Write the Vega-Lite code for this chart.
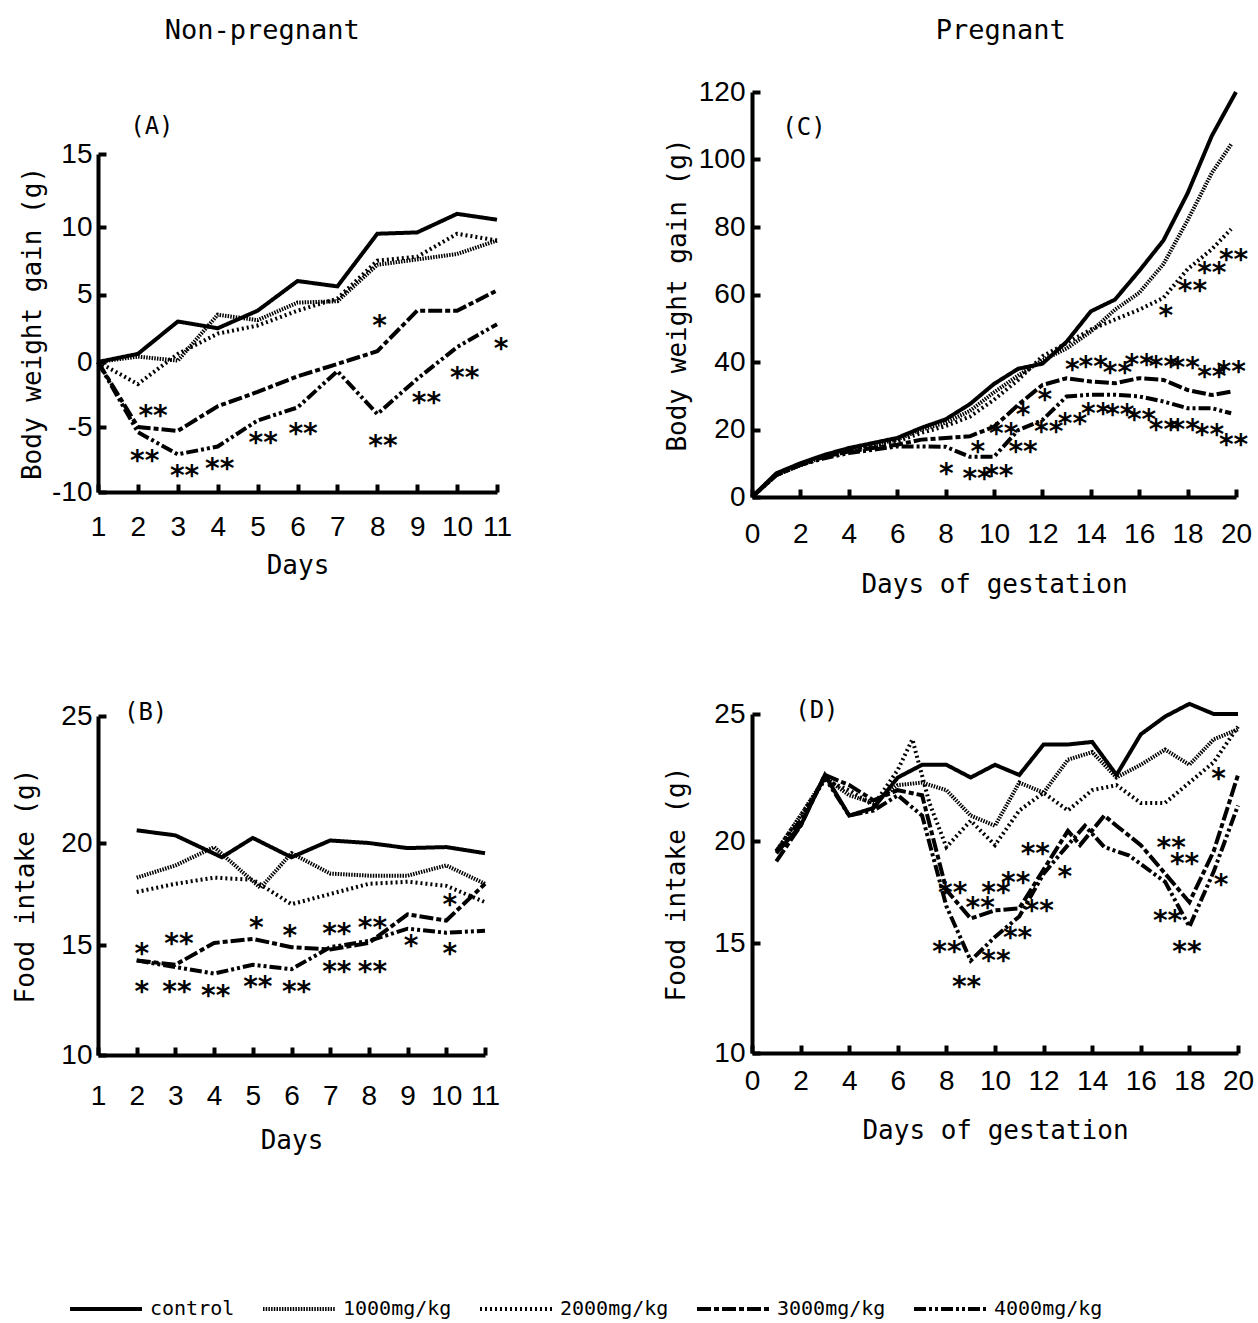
{
"$schema":"https://vega.github.io/schema/vega-lite/v6.json",
"background":"white",
"padding":{"left":12,"top":17,"right":5,"bottom":5},
"datasets":{
"A_lines":[
{"group":"control","day":1,"v":0},{"group":"control","day":2,"v":0.6},{"group":"control","day":3,"v":3.0},{"group":"control","day":4,"v":2.5},{"group":"control","day":5,"v":3.8},{"group":"control","day":6,"v":6.0},{"group":"control","day":7,"v":5.6},{"group":"control","day":8,"v":9.5},{"group":"control","day":9,"v":9.6},{"group":"control","day":10,"v":10.9},{"group":"control","day":11,"v":10.5},
{"group":"1000mg/kg","day":1,"v":0},{"group":"1000mg/kg","day":2,"v":0.4},{"group":"1000mg/kg","day":3,"v":0.1},{"group":"1000mg/kg","day":4,"v":3.5},{"group":"1000mg/kg","day":5,"v":3.1},{"group":"1000mg/kg","day":6,"v":4.4},{"group":"1000mg/kg","day":7,"v":4.5},{"group":"1000mg/kg","day":8,"v":7.2},{"group":"1000mg/kg","day":9,"v":7.6},{"group":"1000mg/kg","day":10,"v":8.0},{"group":"1000mg/kg","day":11,"v":9.0},
{"group":"2000mg/kg","day":1,"v":0},{"group":"2000mg/kg","day":2,"v":-1.7},{"group":"2000mg/kg","day":3,"v":0.6},{"group":"2000mg/kg","day":4,"v":2.1},{"group":"2000mg/kg","day":5,"v":2.7},{"group":"2000mg/kg","day":6,"v":3.8},{"group":"2000mg/kg","day":7,"v":4.7},{"group":"2000mg/kg","day":8,"v":7.5},{"group":"2000mg/kg","day":9,"v":7.8},{"group":"2000mg/kg","day":10,"v":9.5},{"group":"2000mg/kg","day":11,"v":9.0},
{"group":"3000mg/kg","day":1,"v":0},{"group":"3000mg/kg","day":2,"v":-5.0},{"group":"3000mg/kg","day":3,"v":-5.3},{"group":"3000mg/kg","day":4,"v":-3.4},{"group":"3000mg/kg","day":5,"v":-2.3},{"group":"3000mg/kg","day":6,"v":-1.1},{"group":"3000mg/kg","day":7,"v":-0.15},{"group":"3000mg/kg","day":8,"v":0.8},{"group":"3000mg/kg","day":9,"v":3.8},{"group":"3000mg/kg","day":10,"v":3.8},{"group":"3000mg/kg","day":11,"v":5.3},
{"group":"4000mg/kg","day":1,"v":0},{"group":"4000mg/kg","day":2,"v":-5.4},{"group":"4000mg/kg","day":3,"v":-7.1},{"group":"4000mg/kg","day":4,"v":-6.5},{"group":"4000mg/kg","day":5,"v":-4.5},{"group":"4000mg/kg","day":6,"v":-3.5},{"group":"4000mg/kg","day":7,"v":-0.7},{"group":"4000mg/kg","day":8,"v":-4.0},{"group":"4000mg/kg","day":9,"v":-1.3},{"group":"4000mg/kg","day":10,"v":1.1},{"group":"4000mg/kg","day":11,"v":2.8}
],
"A_stars":[
{"day":2.38,"v":-3.6,"t":"**"},{"day":2.17,"v":-7.1,"t":"**"},{"day":3.17,"v":-8.2,"t":"**"},{"day":4.05,"v":-7.7,"t":"**"},{"day":5.14,"v":-5.7,"t":"**"},{"day":6.14,"v":-5.0,"t":"**"},{"day":8.06,"v":3.2,"t":"*"},{"day":8.14,"v":-5.9,"t":"**"},{"day":9.23,"v":-2.6,"t":"**"},{"day":10.19,"v":-0.7,"t":"**"},{"day":11.1,"v":1.5,"t":"*"}
],
"A_label":[{"day":2.35,"v":16.85,"t":"(A)"}],
"B_lines":[
{"group":"control","day":2,"v":20.5},{"group":"control","day":3,"v":20.3},{"group":"control","day":4.2,"v":19.3},{"group":"control","day":5,"v":20.2},{"group":"control","day":6,"v":19.3},{"group":"control","day":7,"v":20.1},{"group":"control","day":8,"v":20.0},{"group":"control","day":9,"v":19.75},{"group":"control","day":10,"v":19.8},{"group":"control","day":11,"v":19.5},
{"group":"1000mg/kg","day":2,"v":18.3},{"group":"1000mg/kg","day":3,"v":18.9},{"group":"1000mg/kg","day":4,"v":19.8},{"group":"1000mg/kg","day":5.2,"v":17.8},{"group":"1000mg/kg","day":6,"v":19.5},{"group":"1000mg/kg","day":7,"v":18.5},{"group":"1000mg/kg","day":8,"v":18.4},{"group":"1000mg/kg","day":9,"v":18.4},{"group":"1000mg/kg","day":10,"v":18.9},{"group":"1000mg/kg","day":11,"v":18.0},
{"group":"2000mg/kg","day":2,"v":17.6},{"group":"2000mg/kg","day":3,"v":18.0},{"group":"2000mg/kg","day":4,"v":18.3},{"group":"2000mg/kg","day":5,"v":18.2},{"group":"2000mg/kg","day":6,"v":17.0},{"group":"2000mg/kg","day":7,"v":17.5},{"group":"2000mg/kg","day":8,"v":18.0},{"group":"2000mg/kg","day":9,"v":18.1},{"group":"2000mg/kg","day":10,"v":17.9},{"group":"2000mg/kg","day":11,"v":17.1},
{"group":"3000mg/kg","day":2,"v":14.3},{"group":"3000mg/kg","day":3,"v":14.1},{"group":"3000mg/kg","day":4,"v":15.1},{"group":"3000mg/kg","day":5,"v":15.3},{"group":"3000mg/kg","day":6,"v":14.9},{"group":"3000mg/kg","day":7,"v":14.8},{"group":"3000mg/kg","day":8,"v":15.1},{"group":"3000mg/kg","day":9,"v":16.5},{"group":"3000mg/kg","day":10,"v":16.2},{"group":"3000mg/kg","day":11,"v":18.0},
{"group":"4000mg/kg","day":2,"v":14.3},{"group":"4000mg/kg","day":3,"v":14.0},{"group":"4000mg/kg","day":4,"v":13.7},{"group":"4000mg/kg","day":5,"v":14.1},{"group":"4000mg/kg","day":6,"v":13.9},{"group":"4000mg/kg","day":7,"v":14.9},{"group":"4000mg/kg","day":8,"v":15.2},{"group":"4000mg/kg","day":9,"v":15.8},{"group":"4000mg/kg","day":10,"v":15.6},{"group":"4000mg/kg","day":11,"v":15.7}
],
"B_stars":[
{"day":2.13,"v":14.9,"t":"*"},{"day":3.09,"v":15.4,"t":"**"},{"day":2.13,"v":13.2,"t":"*"},{"day":3.04,"v":13.2,"t":"**"},{"day":4.04,"v":13.0,"t":"**"},{"day":5.09,"v":16.2,"t":"*"},{"day":5.13,"v":13.4,"t":"**"},{"day":5.96,"v":15.8,"t":"*"},{"day":6.13,"v":13.2,"t":"**"},{"day":7.17,"v":15.9,"t":"**"},{"day":7.17,"v":14.1,"t":"**"},{"day":8.09,"v":16.2,"t":"**"},{"day":8.09,"v":14.1,"t":"**"},{"day":9.09,"v":15.3,"t":"*"},{"day":10.09,"v":17.3,"t":"*"},{"day":10.09,"v":14.9,"t":"*"}
],
"B_label":[{"day":2.23,"v":25.1,"t":"(B)"}],
"C_lines":[
{"group":"control","day":0,"v":0},{"group":"control","day":1,"v":7},{"group":"control","day":2,"v":10},{"group":"control","day":3,"v":12.5},{"group":"control","day":4,"v":14.5},{"group":"control","day":5,"v":16},{"group":"control","day":6,"v":17.5},{"group":"control","day":7,"v":20.5},{"group":"control","day":8,"v":23},{"group":"control","day":9,"v":27.5},{"group":"control","day":10,"v":33.5},{"group":"control","day":11,"v":38},{"group":"control","day":12,"v":39.5},{"group":"control","day":13,"v":46},{"group":"control","day":14,"v":55},{"group":"control","day":15,"v":58.5},{"group":"control","day":16,"v":67},{"group":"control","day":17,"v":76},{"group":"control","day":18,"v":90},{"group":"control","day":19,"v":107},{"group":"control","day":20,"v":120},
{"group":"1000mg/kg","day":0,"v":0},{"group":"1000mg/kg","day":1,"v":6.5},{"group":"1000mg/kg","day":2,"v":9.5},{"group":"1000mg/kg","day":3,"v":12},{"group":"1000mg/kg","day":4,"v":14},{"group":"1000mg/kg","day":5,"v":15.5},{"group":"1000mg/kg","day":6,"v":17},{"group":"1000mg/kg","day":7,"v":20},{"group":"1000mg/kg","day":8,"v":22},{"group":"1000mg/kg","day":9,"v":25.5},{"group":"1000mg/kg","day":10,"v":31},{"group":"1000mg/kg","day":11,"v":36},{"group":"1000mg/kg","day":12,"v":40.5},{"group":"1000mg/kg","day":13,"v":44},{"group":"1000mg/kg","day":14,"v":49},{"group":"1000mg/kg","day":15,"v":55.5},{"group":"1000mg/kg","day":16,"v":60.5},{"group":"1000mg/kg","day":17,"v":69},{"group":"1000mg/kg","day":18,"v":82},{"group":"1000mg/kg","day":19,"v":96},{"group":"1000mg/kg","day":19.8,"v":104.5},
{"group":"2000mg/kg","day":0,"v":0},{"group":"2000mg/kg","day":1,"v":6.5},{"group":"2000mg/kg","day":2,"v":9.5},{"group":"2000mg/kg","day":3,"v":12},{"group":"2000mg/kg","day":4,"v":13.5},{"group":"2000mg/kg","day":5,"v":15},{"group":"2000mg/kg","day":6,"v":16.5},{"group":"2000mg/kg","day":7,"v":19},{"group":"2000mg/kg","day":8,"v":21},{"group":"2000mg/kg","day":9,"v":23.8},{"group":"2000mg/kg","day":10,"v":28.8},{"group":"2000mg/kg","day":11,"v":34.7},{"group":"2000mg/kg","day":12,"v":41.7},{"group":"2000mg/kg","day":13,"v":45.6},{"group":"2000mg/kg","day":14,"v":49.6},{"group":"2000mg/kg","day":15,"v":52.6},{"group":"2000mg/kg","day":16,"v":55.5},{"group":"2000mg/kg","day":17,"v":59},{"group":"2000mg/kg","day":18,"v":67.5},{"group":"2000mg/kg","day":19,"v":73.4},{"group":"2000mg/kg","day":19.8,"v":79.4},
{"group":"3000mg/kg","day":0,"v":0},{"group":"3000mg/kg","day":1,"v":6.5},{"group":"3000mg/kg","day":2,"v":9.5},{"group":"3000mg/kg","day":3,"v":12},{"group":"3000mg/kg","day":4,"v":13.5},{"group":"3000mg/kg","day":5,"v":14.5},{"group":"3000mg/kg","day":6,"v":15.5},{"group":"3000mg/kg","day":7,"v":17},{"group":"3000mg/kg","day":8,"v":17.5},{"group":"3000mg/kg","day":9,"v":18},{"group":"3000mg/kg","day":10,"v":20.8},{"group":"3000mg/kg","day":11,"v":27.3},{"group":"3000mg/kg","day":12,"v":33.2},{"group":"3000mg/kg","day":13,"v":35.2},{"group":"3000mg/kg","day":14,"v":34.2},{"group":"3000mg/kg","day":15,"v":33.7},{"group":"3000mg/kg","day":16,"v":35.2},{"group":"3000mg/kg","day":17,"v":34.7},{"group":"3000mg/kg","day":18,"v":31.7},{"group":"3000mg/kg","day":19,"v":30.2},{"group":"3000mg/kg","day":19.8,"v":31.2},
{"group":"4000mg/kg","day":0,"v":0},{"group":"4000mg/kg","day":1,"v":6.5},{"group":"4000mg/kg","day":2,"v":9.5},{"group":"4000mg/kg","day":3,"v":11.5},{"group":"4000mg/kg","day":4,"v":13},{"group":"4000mg/kg","day":5,"v":14},{"group":"4000mg/kg","day":6,"v":15},{"group":"4000mg/kg","day":7,"v":15},{"group":"4000mg/kg","day":8,"v":14.9},{"group":"4000mg/kg","day":9,"v":11.9},{"group":"4000mg/kg","day":10,"v":11.9},{"group":"4000mg/kg","day":11,"v":19.8},{"group":"4000mg/kg","day":12,"v":22.8},{"group":"4000mg/kg","day":13,"v":29.8},{"group":"4000mg/kg","day":14,"v":30.3},{"group":"4000mg/kg","day":15,"v":30.3},{"group":"4000mg/kg","day":16,"v":29.8},{"group":"4000mg/kg","day":17,"v":28.3},{"group":"4000mg/kg","day":18,"v":26.3},{"group":"4000mg/kg","day":19,"v":26.3},{"group":"4000mg/kg","day":19.8,"v":24.8}
],
"C_stars":[
{"day":8.03,"v":8.9,"t":"*"},{"day":9.3,"v":7.4,"t":"**"},{"day":10.2,"v":8.4,"t":"**"},{"day":9.33,"v":15.4,"t":"*"},{"day":10.4,"v":20.8,"t":"**"},{"day":11.2,"v":15.4,"t":"**"},{"day":11.2,"v":26.3,"t":"*"},{"day":12.1,"v":30.8,"t":"*"},{"day":12.26,"v":21.3,"t":"**"},{"day":13.24,"v":23.8,"t":"**"},{"day":13.24,"v":39.7,"t":"*"},{"day":14.1,"v":40.7,"t":"**"},{"day":15.1,"v":38.7,"t":"**"},{"day":16.0,"v":41.2,"t":"**"},{"day":17.0,"v":40.7,"t":"**"},{"day":17.9,"v":40.2,"t":"**"},{"day":19.0,"v":37.7,"t":"**"},{"day":19.8,"v":39.2,"t":"**"},{"day":14.2,"v":26.8,"t":"**"},{"day":15.2,"v":26.3,"t":"**"},{"day":16.1,"v":24.8,"t":"**"},{"day":17.0,"v":21.8,"t":"**"},{"day":17.9,"v":21.8,"t":"**"},{"day":18.9,"v":20.3,"t":"**"},{"day":19.9,"v":17.4,"t":"**"},{"day":17.1,"v":55.6,"t":"*"},{"day":18.2,"v":63.0,"t":"**"},{"day":19.0,"v":68.5,"t":"**"},{"day":19.9,"v":72.4,"t":"**"}
],
"C_label":[{"day":2.15,"v":109.3,"t":"(C)"}],
"D_lines":[
{"group":"control","day":1,"v":19.4},{"group":"control","day":2,"v":20.6},{"group":"control","day":3,"v":22.6},{"group":"control","day":4,"v":21.0},{"group":"control","day":5,"v":21.3},{"group":"control","day":6,"v":22.5},{"group":"control","day":7,"v":23.0},{"group":"control","day":8,"v":23.0},{"group":"control","day":9,"v":22.5},{"group":"control","day":10,"v":23.0},{"group":"control","day":11,"v":22.6},{"group":"control","day":12,"v":23.8},{"group":"control","day":13,"v":23.8},{"group":"control","day":14,"v":23.9},{"group":"control","day":15,"v":22.6},{"group":"control","day":16,"v":24.2},{"group":"control","day":17,"v":24.9},{"group":"control","day":18,"v":25.4},{"group":"control","day":19,"v":25.0},{"group":"control","day":20,"v":25.0},
{"group":"1000mg/kg","day":1,"v":19.5},{"group":"1000mg/kg","day":2,"v":21.0},{"group":"1000mg/kg","day":3,"v":22.5},{"group":"1000mg/kg","day":4,"v":21.8},{"group":"1000mg/kg","day":5,"v":21.5},{"group":"1000mg/kg","day":6,"v":22.2},{"group":"1000mg/kg","day":7,"v":22.3},{"group":"1000mg/kg","day":8,"v":22.0},{"group":"1000mg/kg","day":9,"v":21.0},{"group":"1000mg/kg","day":10,"v":20.6},{"group":"1000mg/kg","day":11,"v":22.3},{"group":"1000mg/kg","day":12,"v":21.9},{"group":"1000mg/kg","day":13,"v":23.2},{"group":"1000mg/kg","day":14,"v":23.5},{"group":"1000mg/kg","day":15,"v":22.5},{"group":"1000mg/kg","day":16,"v":23.0},{"group":"1000mg/kg","day":17,"v":23.6},{"group":"1000mg/kg","day":18,"v":23.0},{"group":"1000mg/kg","day":19,"v":24.0},{"group":"1000mg/kg","day":20,"v":24.4},
{"group":"2000mg/kg","day":1,"v":19.5},{"group":"2000mg/kg","day":2,"v":21.0},{"group":"2000mg/kg","day":3,"v":22.4},{"group":"2000mg/kg","day":4,"v":22.0},{"group":"2000mg/kg","day":5,"v":21.4},{"group":"2000mg/kg","day":6,"v":22.8},{"group":"2000mg/kg","day":6.6,"v":24.0},{"group":"2000mg/kg","day":7.3,"v":21.5},{"group":"2000mg/kg","day":8,"v":19.7},{"group":"2000mg/kg","day":9,"v":20.8},{"group":"2000mg/kg","day":10,"v":19.8},{"group":"2000mg/kg","day":11,"v":21.2},{"group":"2000mg/kg","day":12,"v":21.9},{"group":"2000mg/kg","day":13,"v":21.2},{"group":"2000mg/kg","day":14,"v":22.0},{"group":"2000mg/kg","day":15,"v":22.2},{"group":"2000mg/kg","day":16,"v":21.5},{"group":"2000mg/kg","day":17,"v":21.5},{"group":"2000mg/kg","day":18,"v":22.3},{"group":"2000mg/kg","day":19,"v":23.1},{"group":"2000mg/kg","day":20,"v":24.5},
{"group":"3000mg/kg","day":1,"v":19.0},{"group":"3000mg/kg","day":2,"v":20.6},{"group":"3000mg/kg","day":3,"v":22.6},{"group":"3000mg/kg","day":4,"v":22.2},{"group":"3000mg/kg","day":5,"v":21.6},{"group":"3000mg/kg","day":6,"v":22.0},{"group":"3000mg/kg","day":7,"v":21.8},{"group":"3000mg/kg","day":8,"v":17.6},{"group":"3000mg/kg","day":9,"v":16.2},{"group":"3000mg/kg","day":10,"v":16.6},{"group":"3000mg/kg","day":11,"v":16.7},{"group":"3000mg/kg","day":12,"v":18.6},{"group":"3000mg/kg","day":13,"v":20.4},{"group":"3000mg/kg","day":13.5,"v":19.8},{"group":"3000mg/kg","day":14.5,"v":21.0},{"group":"3000mg/kg","day":15,"v":20.6},{"group":"3000mg/kg","day":16,"v":19.8},{"group":"3000mg/kg","day":17,"v":18.4},{"group":"3000mg/kg","day":18,"v":17.0},{"group":"3000mg/kg","day":19,"v":19.5},{"group":"3000mg/kg","day":20,"v":22.6},
{"group":"4000mg/kg","day":1,"v":19.5},{"group":"4000mg/kg","day":2,"v":20.8},{"group":"4000mg/kg","day":3,"v":22.5},{"group":"4000mg/kg","day":4,"v":21.0},{"group":"4000mg/kg","day":5,"v":21.2},{"group":"4000mg/kg","day":6,"v":21.8},{"group":"4000mg/kg","day":7,"v":21.0},{"group":"4000mg/kg","day":8,"v":16.8},{"group":"4000mg/kg","day":9,"v":14.2},{"group":"4000mg/kg","day":10,"v":15.3},{"group":"4000mg/kg","day":11,"v":16.3},{"group":"4000mg/kg","day":12,"v":18.4},{"group":"4000mg/kg","day":13,"v":19.8},{"group":"4000mg/kg","day":13.7,"v":20.6},{"group":"4000mg/kg","day":14.5,"v":19.7},{"group":"4000mg/kg","day":15.5,"v":19.3},{"group":"4000mg/kg","day":17,"v":18.0},{"group":"4000mg/kg","day":18,"v":15.8},{"group":"4000mg/kg","day":19,"v":18.5},{"group":"4000mg/kg","day":20,"v":21.4}
],
"D_stars":[
{"day":8.26,"v":17.8,"t":"**"},{"day":9.39,"v":17.06,"t":"**"},{"day":10.04,"v":17.8,"t":"**"},{"day":10.85,"v":18.3,"t":"**"},{"day":11.66,"v":19.7,"t":"**"},{"day":12.87,"v":18.6,"t":"*"},{"day":11.82,"v":16.9,"t":"**"},{"day":10.93,"v":15.6,"t":"**"},{"day":10.04,"v":14.5,"t":"**"},{"day":8.83,"v":13.3,"t":"**"},{"day":8.02,"v":14.9,"t":"**"},{"day":17.25,"v":20.0,"t":"**"},{"day":17.8,"v":19.2,"t":"**"},{"day":17.1,"v":16.4,"t":"**"},{"day":17.9,"v":14.9,"t":"**"},{"day":19.2,"v":22.7,"t":"*"},{"day":19.3,"v":18.2,"t":"*"}
],
"D_label":[{"day":2.67,"v":25.1,"t":"(D)"}],
"empty":[]
},
"hconcat":[
{"title":{"text":"Non-pregnant","offset":47},"spacing":0,"vconcat":[
 {"width":399,"height":22,"view":{"fill":"white","stroke":null},"data":{"name":"empty"},"mark":{"type":"point"},"encoding":{}},
 {"spacing":123,"vconcat":[
 {"width":399,"height":338,"layer":[
  {"data":{"name":"A_lines"},"mark":{"type":"line","stroke":"black","strokeWidth":4},
   "encoding":{
    "x":{"field":"day","type":"quantitative","scale":{"domain":[1,11],"nice":false,"zero":false},"axis":{"values":[1,2,3,4,5,6,7,8,9,10,11],"tickCount":20,"format":"d","title":"Days","labelPadding":29,"titlePadding":11,"labelOverlap":false,"labelFlush":false}},
    "y":{"field":"v","type":"quantitative","scale":{"domain":[-10,0,10,15],"range":[338,208,73,0],"zero":false,"nice":false},"axis":{"values":[-10,-5,0,5,10,15],"labelExpr":"datum.value < 0 ? '-' + abs(datum.value) : datum.label","title":"Body weight gain (g)","labelPadding":14,"titlePadding":6,"labelOverlap":false,"labelFlush":false}},
    "strokeDash":{"field":"group","type":"nominal","scale":{"domain":["control","1000mg/kg","2000mg/kg","3000mg/kg","4000mg/kg"],"range":[[1,0],[1.5,1.2],[2,3],[14,3,5,3],[12,3,3,3,3,3]]}}}},
  {"data":{"name":"A_stars"},"mark":{"type":"text","font":"DejaVu Sans","fontSize":28,"fontWeight":"bold","baseline":"alphabetic","dy":16,"color":"black"},
   "encoding":{"x":{"field":"day","type":"quantitative"},"y":{"field":"v","type":"quantitative"},"text":{"field":"t"}}},
  {"data":{"name":"A_label"},"mark":{"type":"text","font":"DejaVu Sans Mono","fontSize":24,"baseline":"middle","color":"black"},
   "encoding":{"x":{"field":"day","type":"quantitative"},"y":{"field":"v","type":"quantitative"},"text":{"field":"t"}}}
 ]},
 {"width":387,"height":339,"layer":[
  {"data":{"name":"B_lines"},"mark":{"type":"line","stroke":"black","strokeWidth":4},
   "encoding":{
    "x":{"field":"day","type":"quantitative","scale":{"domain":[1,11],"nice":false,"zero":false},"axis":{"values":[1,2,3,4,5,6,7,8,9,10,11],"tickCount":20,"format":"d","title":"Days","labelPadding":35,"titlePadding":17,"labelOverlap":false,"labelFlush":false}},
    "y":{"field":"v","type":"quantitative","scale":{"domain":[10,15,20,25],"range":[339,229,127,0],"zero":false,"nice":false},"axis":{"values":[10,15,20,25],"title":"Food intake (g)","labelPadding":14,"titlePadding":22,"labelOverlap":false,"labelFlush":false}},
    "strokeDash":{"field":"group","type":"nominal","scale":{"domain":["control","1000mg/kg","2000mg/kg","3000mg/kg","4000mg/kg"],"range":[[1,0],[1.5,1.2],[2,3],[14,3,5,3],[12,3,3,3,3,3]]}}}},
  {"data":{"name":"B_stars"},"mark":{"type":"text","font":"DejaVu Sans","fontSize":28,"fontWeight":"bold","baseline":"alphabetic","dy":16,"color":"black"},
   "encoding":{"x":{"field":"day","type":"quantitative"},"y":{"field":"v","type":"quantitative"},"text":{"field":"t"}}},
  {"data":{"name":"B_label"},"mark":{"type":"text","font":"DejaVu Sans Mono","fontSize":24,"baseline":"middle","color":"black"},
   "encoding":{"x":{"field":"day","type":"quantitative"},"y":{"field":"v","type":"quantitative"},"text":{"field":"t"}}}
 ]}
 ]}
]},
{"title":{"text":"Pregnant","offset":33,"dx":42},"spacing":98,"vconcat":[
 {"width":484,"height":405,"layer":[
  {"data":{"name":"C_lines"},"mark":{"type":"line","stroke":"black","strokeWidth":4},
   "encoding":{
    "x":{"field":"day","type":"quantitative","scale":{"domain":[0,20],"nice":false},"axis":{"values":[0,2,4,6,8,10,12,14,16,18,20],"tickCount":20,"format":"d","title":"Days of gestation","labelPadding":31,"titlePadding":23,"labelOverlap":false,"labelFlush":false}},
    "y":{"field":"v","type":"quantitative","scale":{"domain":[0,120],"nice":false},"axis":{"values":[0,20,40,60,80,100,120],"format":"d","title":"Body weight gain (g)","labelPadding":15,"titlePadding":8,"labelOverlap":false,"labelFlush":false}},
    "strokeDash":{"field":"group","type":"nominal","scale":{"domain":["control","1000mg/kg","2000mg/kg","3000mg/kg","4000mg/kg"],"range":[[1,0],[1.5,1.2],[2,3],[14,3,5,3],[12,3,3,3,3,3]]}}}},
  {"data":{"name":"C_stars"},"mark":{"type":"text","font":"DejaVu Sans","fontSize":28,"fontWeight":"bold","baseline":"alphabetic","dy":16,"color":"black"},
   "encoding":{"x":{"field":"day","type":"quantitative"},"y":{"field":"v","type":"quantitative"},"text":{"field":"t"}}},
  {"data":{"name":"C_label"},"mark":{"type":"text","font":"DejaVu Sans Mono","fontSize":24,"baseline":"middle","color":"black"},
   "encoding":{"x":{"field":"day","type":"quantitative"},"y":{"field":"v","type":"quantitative"},"text":{"field":"t"}}}
 ]},
 {"width":486,"height":339,"layer":[
  {"data":{"name":"D_lines"},"mark":{"type":"line","stroke":"black","strokeWidth":4},
   "encoding":{
    "x":{"field":"day","type":"quantitative","scale":{"domain":[0,20],"nice":false},"axis":{"values":[0,2,4,6,8,10,12,14,16,18,20],"tickCount":20,"format":"d","title":"Days of gestation","labelPadding":22,"titlePadding":22,"labelOverlap":false,"labelFlush":false}},
    "y":{"field":"v","type":"quantitative","scale":{"domain":[10,15,20,25],"range":[339,229,127,0],"zero":false,"nice":false},"axis":{"values":[10,15,20,25],"title":"Food intake (g)","labelPadding":15,"titlePadding":24,"labelOverlap":false,"labelFlush":false}},
    "strokeDash":{"field":"group","type":"nominal","scale":{"domain":["control","1000mg/kg","2000mg/kg","3000mg/kg","4000mg/kg"],"range":[[1,0],[1.5,1.2],[2,3],[14,3,5,3],[12,3,3,3,3,3]]}}}},
  {"data":{"name":"D_stars"},"mark":{"type":"text","font":"DejaVu Sans","fontSize":28,"fontWeight":"bold","baseline":"alphabetic","dy":16,"color":"black"},
   "encoding":{"x":{"field":"day","type":"quantitative"},"y":{"field":"v","type":"quantitative"},"text":{"field":"t"}}},
  {"data":{"name":"D_label"},"mark":{"type":"text","font":"DejaVu Sans Mono","fontSize":24,"baseline":"middle","color":"black"},
   "encoding":{"x":{"field":"day","type":"quantitative"},"y":{"field":"v","type":"quantitative"},"text":{"field":"t"}}}
 ]}
]}
],
"spacing":151,
"config":{
 "view":{"stroke":null},
 "title":{"font":"DejaVu Sans Mono","fontSize":27,"fontWeight":"normal","color":"black","anchor":"middle"},
 "axis":{"domainColor":"black","domainWidth":4,"tickColor":"black","tickWidth":4,"tickSize":-8,"labelColor":"black","labelFont":"Liberation Sans","labelFontSize":28,"titleFont":"DejaVu Sans Mono","titleFontSize":26,"titleFontWeight":"normal","titleColor":"black","grid":false,"labelOverlap":false,"labelFlush":false},
 "legend":{"orient":"none","legendX":-30,"legendY":1179,"direction":"horizontal","title":null,"symbolType":"stroke","symbolSize":5184,"symbolStrokeWidth":4,"symbolStrokeColor":"black","labelFont":"DejaVu Sans Mono","labelFontSize":20,"labelColor":"black","columnPadding":20,"labelOffset":6}
}
}
